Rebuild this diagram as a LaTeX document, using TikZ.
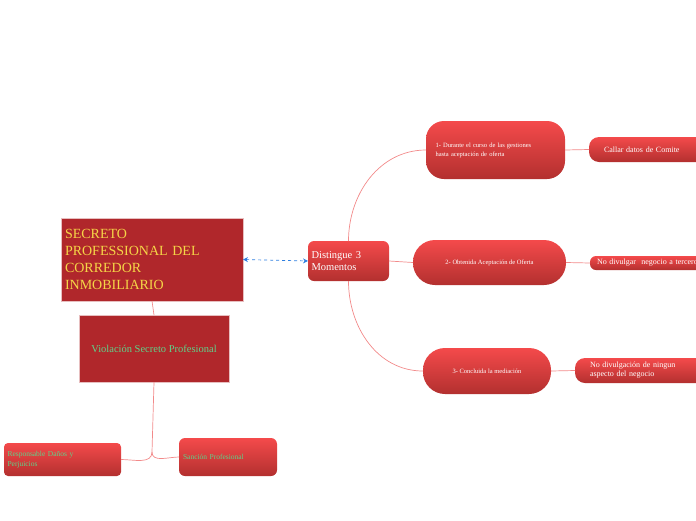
\documentclass[tikz,border=0pt]{standalone}
\usepackage{fontspec}
\setmainfont{Liberation Serif}
\usetikzlibrary{positioning,arrows.meta}
\definecolor{boxred}{HTML}{B0272B}
\definecolor{topred}{HTML}{F44A4B}
\definecolor{botred}{HTML}{B3302F}
\definecolor{titleyellow}{HTML}{F5D547}
\definecolor{labelgreen}{HTML}{5FD38A}
\definecolor{linkpink}{HTML}{F28A8A}
\definecolor{linkblue}{HTML}{2F7FE0}
\tikzset{
  mainbox/.style={draw=white!70!boxred, fill=boxred, inner sep=3pt, outer sep=0pt},
  topicbox/.style={draw=none, top color=topred, bottom color=botred, outer sep=0pt, inner sep=3pt, text=white},
  link/.style={linkpink, line width=0.7pt},
}
\begin{document}
\begin{tikzpicture}[x=1pt,y=-1pt]
\useasboundingbox (0,0) rectangle (696,520);

% main nodes
\node[mainbox, minimum width=182pt, minimum height=83pt, text width=174pt, align=left,
  text=titleyellow, font=\fontsize{14}{17}\selectfont] (secreto) at (152,259.5)
  {SECRETO\\PROFESSIONAL DEL\\CORREDOR\\INMOBILIARIO};
\node[mainbox, minimum width=150pt, minimum height=67pt, text=labelgreen,
  font=\fontsize{10.5}{12}\selectfont] (violacion) at (154,348.5) {Violación Secreto Profesional};

\node[topicbox, rounded corners=4pt, minimum width=117pt, minimum height=33pt, text width=110pt,
  align=left, text=labelgreen, font=\fontsize{7.5}{9.5}\selectfont] (responsable) at (62.5,459.5)
  {Responsable Daños y\\Perjuicios};
\node[topicbox, rounded corners=6pt, minimum width=98pt, minimum height=38pt, text width=90pt,
  align=left, text=labelgreen, font=\fontsize{7.5}{9}\selectfont] (sancion) at (228,457)
  {Sanción Profesional};

\node[topicbox, rounded corners=6pt, minimum width=81pt, minimum height=40pt, text width=74pt,
  align=left, font=\fontsize{10.5}{11.5}\selectfont] (distingue) at (348.5,261)
  {Distingue 3\\Momentos};

\node[topicbox, rounded corners=18pt, minimum width=139pt, minimum height=58pt, text width=120pt,
  align=left, font=\fontsize{6.5}{9}\selectfont] (mom1) at (495.5,150)
  {1- Durante el curso de las gestiones\\hasta aceptación de oferta};
\node[topicbox, rounded corners=22pt, minimum width=153pt, minimum height=45pt,
  font=\fontsize{6.5}{8}\selectfont] (mom2) at (489.5,262.5) {2- Obtenida Aceptación de Oferta};
\node[topicbox, rounded corners=22pt, minimum width=128pt, minimum height=46pt,
  font=\fontsize{6.5}{8}\selectfont] (mom3) at (487,371) {3- Concluida la mediación};

\node[topicbox, rounded corners=10pt, minimum width=150pt, minimum height=25pt, text width=136pt,
  align=left, font=\fontsize{8}{9}\selectfont, anchor=west] (callar) at (589,149.5)
  {\hspace*{8pt}Callar datos de Comite};
\node[topicbox, rounded corners=6pt, minimum width=150pt, minimum height=14pt, text width=136pt,
  align=left, font=\fontsize{8}{9}\selectfont, anchor=west] (divulgar) at (590,263)
  {No divulgar \ negocio a terceros};
\node[topicbox, rounded corners=10pt, minimum width=150pt, minimum height=25pt, text width=136pt,
  align=left, font=\fontsize{8}{9}\selectfont, anchor=west] (ningun) at (575,370.5)
  {\hspace*{8pt}No divulgación de ningun\\\hspace*{8pt}aspecto del negocio};

% connectors
\draw[link] (secreto.south) -- (violacion.north);
\draw[link] (violacion.south) -- (152,452) to[out=-90,in=0] (responsable.east);
\draw[link] (152,452) to[out=-90,in=180] (sancion.west);
\draw[linkblue, dashed, line width=0.7pt, {Stealth[length=5pt,width=5pt]}-{Stealth[length=5pt,width=5pt]}]
  (secreto.east) -- (distingue.west);
\draw[link] (distingue.north) to[out=90,in=180] (mom1.west);
\draw[link] (distingue.south) to[out=-90,in=180] (mom3.west);
\draw[link] (distingue.east) -- (mom2.west);
\draw[link] (mom1.east) -- (callar.west);
\draw[link] (mom2.east) -- (divulgar.west);
\draw[link] (mom3.east) -- (ningun.west);
\end{tikzpicture}
\end{document}
